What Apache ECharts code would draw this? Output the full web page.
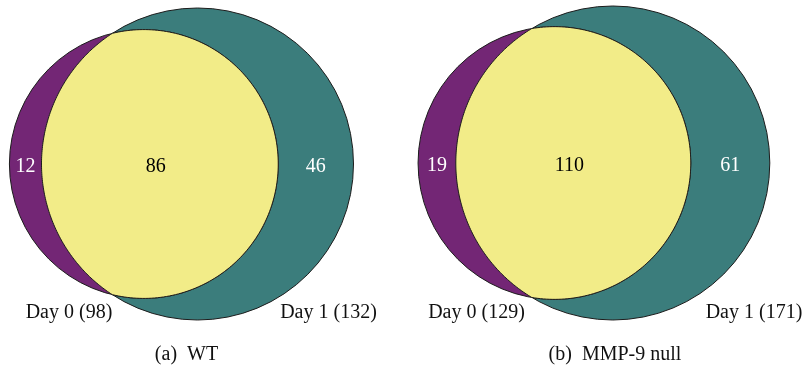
<!DOCTYPE html>
<html>
<head>
<meta charset="utf-8">
<script src="https://cdn.jsdelivr.net/npm/echarts@6/dist/echarts.min.js"></script>
<style>
  html, body { margin: 0; padding: 0; background: #fff; }
  #chart { width: 807px; height: 365px; }
</style>
</head>
<body>
<div id="chart"></div>
<script>
// counts per region, one entry per panel
const panelNames = ['(a)  WT', '(b)  MMP-9 null'];
const day0Only = [12, 19];
const bothDays = [86, 110];
const day1Only = [46, 61];
const setNames = ['Day 0', 'Day 1'];

// where the big (Day 1) circle of each panel sits, in pixels
const panelBox = [
  { cx: 197.5, cy: 164, r: 156 },
  { cx: 612.8, cy: 163, r: 157 }
];
const colors = { day0: '#732675', day1: '#3b7d7c', both: '#f2ec88', line: '#1c1c1c' };
const FONT = '"Liberation Serif", "DejaVu Serif", serif';

// area of the lens of two circles at distance d
function lensArea(r1, r2, d) {
  if (d >= r1 + r2) return 0;
  if (d <= Math.abs(r1 - r2)) return Math.PI * Math.min(r1, r2) ** 2;
  const a1 = Math.acos((d * d + r1 * r1 - r2 * r2) / (2 * d * r1));
  const a2 = Math.acos((d * d + r2 * r2 - r1 * r1) / (2 * d * r2));
  return r1 * r1 * a1 + r2 * r2 * a2 -
    0.5 * Math.sqrt((-d + r1 + r2) * (d + r1 - r2) * (d - r1 + r2) * (d + r1 + r2));
}

// circle area = PI * count, solve distance so the overlap is PI * shared
function layout(i) {
  const n0 = day0Only[i] + bothDays[i];
  const n1 = day1Only[i] + bothDays[i];
  const r1 = Math.sqrt(n0), r2 = Math.sqrt(n1);
  const target = Math.PI * bothDays[i];
  let lo = Math.abs(r2 - r1), hi = r1 + r2;
  for (let k = 0; k < 80; k++) {
    const mid = (lo + hi) / 2;
    if (lensArea(r1, r2, mid) > target) lo = mid; else hi = mid;
  }
  return { n0, n1, r1, r2, d: (lo + hi) / 2 };
}

const layouts = panelNames.map((_, i) => layout(i));

function renderVenn(params, api) {
  const i = api.value(0);
  const L = layouts[i];
  const px = api.size([1, 0])[0];
  const c1 = api.coord([-L.d, 0]);   // Day 0
  const c2 = api.coord([0, 0]);      // Day 1
  const R1 = L.r1 * px, R2 = L.r2 * px;

  // intersection points, measured from the Day 0 centre
  const a = (L.d * L.d + L.r1 * L.r1 - L.r2 * L.r2) / (2 * L.d);
  const h = Math.sqrt(L.r1 * L.r1 - a * a);
  const pts = [];
  const t0 = Math.atan2(-h, a), t1 = Math.atan2(h, a);
  for (let k = 0; k <= 160; k++) {
    const t = t0 + (t1 - t0) * k / 160;
    pts.push([c1[0] + R1 * Math.cos(t), c1[1] + R1 * Math.sin(t)]);
  }
  const ix = -L.d + a;
  const p0 = Math.atan2(h, ix), p1 = Math.atan2(-h, ix) + 2 * Math.PI;
  for (let k = 1; k < 160; k++) {
    const t = p0 + (p1 - p0) * k / 160;
    pts.push([c2[0] + R2 * Math.cos(t), c2[1] + R2 * Math.sin(t)]);
  }

  const lbl = (text, x, fill) => ({
    type: 'text',
    style: {
      text: String(text), x: x, y: c2[1] + 3, fill: fill,
      font: '20px ' + FONT,
      textAlign: 'center', textVerticalAlign: 'middle',
      align: 'center', verticalAlign: 'middle'
    }
  });

  const left1 = c1[0] - R1, left2 = c2[0] - R2;
  const right1 = c1[0] + R1, right2 = c2[0] + R2;

  return {
    type: 'group',
    children: [
      { type: 'circle', shape: { cx: c2[0], cy: c2[1], r: R2 },
        style: { fill: colors.day1, stroke: colors.line, lineWidth: 1 } },
      { type: 'circle', shape: { cx: c1[0], cy: c1[1], r: R1 },
        style: { fill: colors.day0, stroke: colors.line, lineWidth: 1 } },
      { type: 'polygon', shape: { points: pts },
        style: { fill: colors.both, stroke: colors.line, lineWidth: 1 } },
      lbl(day0Only[i], (left1 + left2) / 2, '#fff'),
      lbl(bothDays[i], (left2 + right1) / 2 - 4, '#000'),
      lbl(day1Only[i], (right1 + right2) / 2, '#fff')
    ]
  };
}

const chart = echarts.init(document.getElementById('chart'), null, { renderer: 'canvas' });

const grids = panelBox.map(b => ({
  left: b.cx - b.r, top: b.cy - b.r, width: 2 * b.r, height: 2 * b.r
}));
const xAxes = layouts.map((L, i) => ({
  type: 'value', gridIndex: i, min: -L.r2, max: L.r2, show: false
}));
const yAxes = layouts.map((L, i) => ({
  type: 'value', gridIndex: i, min: -L.r2, max: L.r2, show: false
}));
const series = layouts.map((L, i) => ({
  type: 'custom',
  xAxisIndex: i, yAxisIndex: i,
  renderItem: renderVenn,
  data: [[i]],
  silent: true
}));

// set names and panel captions
const setLabelPos = [
  [{ x: 69, y: 313 }, { x: 328.5, y: 313 }],
  [{ x: 476.5, y: 313 }, { x: 754, y: 313 }]
];
const captionPos = [{ x: 186.5, y: 355 }, { x: 615, y: 355 }];
const graphic = [];
layouts.forEach((L, i) => {
  [L.n0, L.n1].forEach((n, j) => {
    graphic.push({
      type: 'text',
      x: setLabelPos[i][j].x, y: setLabelPos[i][j].y,
      style: {
        text: setNames[j] + ' (' + n + ')', fill: '#111',
        font: '20px ' + FONT, textAlign: 'center', textVerticalAlign: 'middle',
        align: 'center', verticalAlign: 'middle'
      }
    });
  });
  graphic.push({
    type: 'text',
    x: captionPos[i].x, y: captionPos[i].y,
    style: {
      text: panelNames[i], fill: '#111',
      font: '20px ' + FONT, textAlign: 'center', textVerticalAlign: 'middle',
      align: 'center', verticalAlign: 'middle'
    }
  });
});

chart.setOption({
  animation: false,
  backgroundColor: '#fff',
  grid: grids,
  xAxis: xAxes,
  yAxis: yAxes,
  series: series,
  graphic: graphic
});
</script>
</body>
</html>
